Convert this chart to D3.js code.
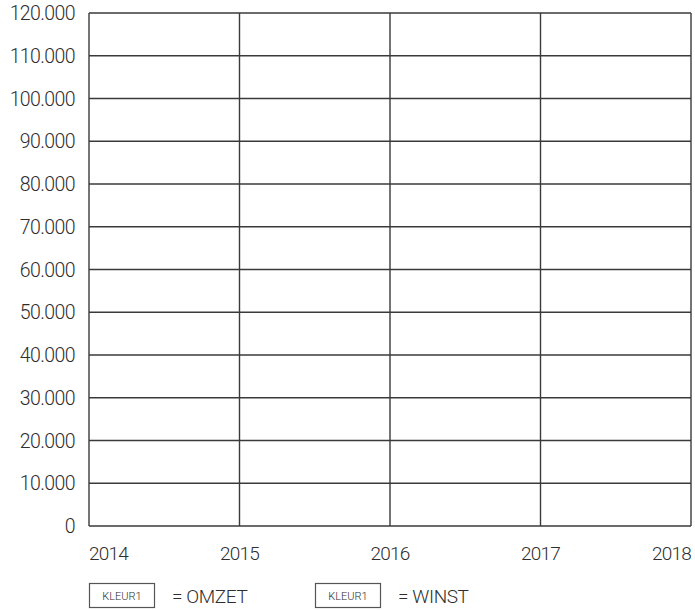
<!DOCTYPE html>
<html>
<head>
<meta charset="utf-8">
<script src="https://cdn.jsdelivr.net/npm/d3@7"></script>
<style>
  body { margin: 0; background: #fff; }
  text { font-family: Roboto, "Noto Sans", sans-serif; font-weight: 300; fill: #2e2e2e; }
</style>
</head>
<body>
<div id="chart"></div>
<script>
// chart values
var years = [2014, 2015, 2016, 2017, 2018];
var yTickValues = [0, 10000, 20000, 30000, 40000, 50000, 60000, 70000, 80000, 90000, 100000, 110000, 120000];
var legendKeys = ["KLEUR1", "KLEUR1"];
var legendNames = ["= OMZET", "= WINST"];

var svgWidth = 695;
var svgHeight = 610;

var chartMargin = { top: 13, right: 4, bottom: 84, left: 89 };
var chartWidth = svgWidth - chartMargin.left - chartMargin.right;
var chartHeight = svgHeight - chartMargin.top - chartMargin.bottom;

var svg = d3.select("#chart")
    .append("svg")
    .attr("width", svgWidth)
    .attr("height", svgHeight);

var chartGroup = svg.append("g")
    .attr("transform", `translate(${chartMargin.left}, ${chartMargin.top})`);

var xScale = d3.scaleLinear()
    .domain([d3.min(years), d3.max(years)])
    .range([0, chartWidth]);

var yScale = d3.scaleLinear()
    .domain([0, d3.max(yTickValues)])
    .range([chartHeight, 0]);

// dutch number format: thousands with a dot
var fmt = function(v) {
    return d3.format(",")(v).replace(/,/g, ".");
};

// horizontal grid lines
chartGroup.append("g")
    .selectAll("line")
    .data(yTickValues)
    .enter()
    .append("line")
    .attr("x1", 0)
    .attr("x2", chartWidth)
    .attr("y1", d => yScale(d))
    .attr("y2", d => yScale(d))
    .attr("stroke", "#3a3a3a")
    .attr("stroke-width", 1.4);

// vertical grid lines
chartGroup.append("g")
    .selectAll("line")
    .data(years)
    .enter()
    .append("line")
    .attr("x1", d => xScale(d))
    .attr("x2", d => xScale(d))
    .attr("y1", 0)
    .attr("y2", chartHeight)
    .attr("stroke", "#3a3a3a")
    .attr("stroke-width", 1.4);

// y labels
chartGroup.append("g")
    .selectAll("text")
    .data(yTickValues)
    .enter()
    .append("text")
    .attr("x", -14)
    .attr("y", d => yScale(d))
    .attr("dy", "0.36em")
    .attr("text-anchor", "end")
    .attr("font-size", 19.5)
    .attr("letter-spacing", -0.6)
    .text(d => fmt(d));

// x labels
chartGroup.append("g")
    .selectAll("text")
    .data(years)
    .enter()
    .append("text")
    .attr("x", d => xScale(d))
    .attr("y", chartHeight + 34)
    .attr("text-anchor", (d, i) => i === 0 ? "start" : (i === years.length - 1 ? "end" : "middle"))
    .attr("font-size", 19)
    .attr("letter-spacing", -0.8)
    .text(d => d);

// legend
var legendX = [0, 226];
var legend = chartGroup.append("g")
    .attr("transform", `translate(0, ${chartHeight + 57})`);

var items = legend.selectAll("g")
    .data(legendNames)
    .enter()
    .append("g")
    .attr("transform", (d, i) => `translate(${legendX[i]}, 0)`);

items.append("rect")
    .attr("x", 0.5)
    .attr("y", 0.5)
    .attr("width", 65)
    .attr("height", 24)
    .attr("fill", "none")
    .attr("stroke", "#555")
    .attr("stroke-width", 1.2);

items.append("text")
    .attr("x", 33)
    .attr("y", 17)
    .attr("text-anchor", "middle")
    .attr("font-size", 11)
    .text((d, i) => legendKeys[i]);

items.append("text")
    .attr("x", 83)
    .attr("y", 19.5)
    .attr("font-size", 19)
    .attr("letter-spacing", -0.4)
    .text(d => d);
</script>
</body>
</html>
